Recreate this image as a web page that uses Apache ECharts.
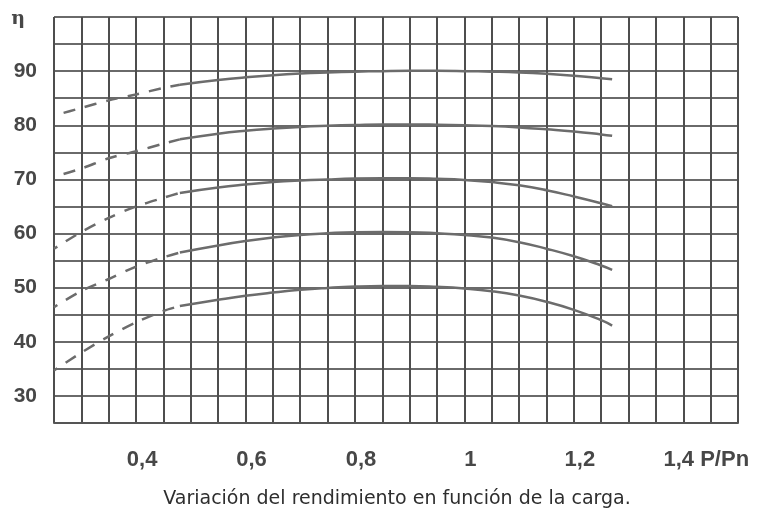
<!DOCTYPE html>
<html>
<head>
<meta charset="utf-8">
<script src="https://cdn.jsdelivr.net/npm/echarts@6/dist/echarts.min.js"></script>
<style>
html,body{margin:0;padding:0;background:#fff;}
#chart{width:757px;height:514px;}
</style>
</head>
<body>
<div id="chart"></div>
<script>
// ---- data ----
const xDash  = [0.25, 0.30, 0.35, 0.40, 0.45, 0.48];
const xSolid = [0.48, 0.55, 0.60, 0.65, 0.70, 0.75, 0.80, 0.85, 0.90, 0.95, 1.00, 1.05, 1.10, 1.15, 1.20, 1.25, 1.27];

const eta90Dash  = [81.8, 83.2, 84.6, 85.7, 86.9, 87.5];
const eta90Solid = [87.5, 88.35, 88.85, 89.25, 89.55, 89.75, 89.9, 90.0, 90.05, 90.05, 90.0, 89.9, 89.75, 89.5, 89.15, 88.7, 88.5];

const eta80Dash  = [70.5, 72.0, 73.9, 75.2, 76.6, 77.4];
const eta80Solid = [77.4, 78.45, 79.0, 79.4, 79.7, 79.9, 80.05, 80.15, 80.15, 80.1, 80.0, 79.85, 79.6, 79.25, 78.85, 78.3, 78.05];

const eta70Dash  = [57.2, 60.3, 62.9, 65.0, 66.6, 67.5];
const eta70Solid = [67.5, 68.5, 69.05, 69.5, 69.8, 70.0, 70.15, 70.2, 70.2, 70.1, 69.9, 69.5, 68.9, 68.0, 66.85, 65.6, 65.05];

const eta60Dash  = [46.4, 49.4, 51.6, 53.9, 55.6, 56.5];
const eta60Solid = [56.5, 57.8, 58.6, 59.25, 59.75, 60.05, 60.25, 60.3, 60.25, 60.05, 59.75, 59.25, 58.4, 57.2, 55.8, 54.1, 53.3];

const eta50Dash  = [34.7, 38.0, 41.0, 43.6, 45.7, 46.6];
const eta50Solid = [46.6, 47.75, 48.5, 49.1, 49.6, 49.95, 50.2, 50.3, 50.3, 50.15, 49.85, 49.35, 48.55, 47.4, 45.9, 44.0, 43.0];

const xTickValues = [0.4, 0.6, 0.8, 1.0, 1.2, 1.4];
const xTickLabels = ['0,4', '0,6', '0,8', '1', '1,2', '1,4 P/Pn'];
const yTickValues = [30, 40, 50, 60, 70, 80, 90, 100];
const yTickLabels = ['30', '40', '50', '60', '70', '80', '90', 'η'];
const caption = 'Variación del rendimiento en función de la carga.';

// ---- build ----
function zip(xs, ys) { return xs.map((x, i) => [x, ys[i]]); }
const curves = [
  [eta90Dash, eta90Solid, 12],
  [eta80Dash, eta80Solid, 12],
  [eta70Dash, eta70Solid, 8],
  [eta60Dash, eta60Solid, 8],
  [eta50Dash, eta50Solid, 8]
];
const lineColor = '#6c6c6c';
const series = [];
curves.forEach(([d, s, off]) => {
  series.push({
    type: 'line', data: zip(xDash, d), smooth: 0.3, symbol: 'none',
    lineStyle: { color: lineColor, width: 2.5, type: [12, 10], dashOffset: off },
    silent: true
  });
  series.push({
    type: 'line', data: zip(xSolid, s), smooth: 0.5, symbol: 'none',
    lineStyle: { color: lineColor, width: 2.5 },
    silent: true
  });
});

const chart = echarts.init(document.getElementById('chart'), null, { renderer: 'canvas' });
chart.setOption({
  animation: false,
  backgroundColor: '#ffffff',
  grid: { left: 54, right: 19, top: 17, bottom: 91, containLabel: false },
  xAxis: {
    type: 'value', min: 0.25, max: 1.5, interval: 0.05,
    axisLine: { show: true, lineStyle: { color: '#555', width: 2 } },
    axisTick: { show: false },
    splitLine: { show: true, lineStyle: { color: '#4e4e4e', width: 2 } },
    axisLabel: {
      margin: 26,
      formatter: function (v) {
        const k = Math.round(v * 100);
        const i = xTickValues.findIndex(t => Math.round(t * 100) === k);
        if (i < 0) return '';
        return (i === xTickValues.length - 1 ? '{b|' : '{a|') + xTickLabels[i] + '}';
      },
      rich: {
        a: { fontFamily: 'Liberation Sans', fontWeight: 'bold', fontSize: 22, color: '#474747', padding: [0, 0, 0, 12] },
        b: { fontFamily: 'Liberation Sans', fontWeight: 'bold', fontSize: 22, color: '#474747', padding: [0, 0, 0, 46] }
      }
    }
  },
  yAxis: {
    type: 'value', min: 25, max: 100, interval: 5,
    axisLine: { show: false },
    axisTick: { show: false },
    splitLine: { show: true, lineStyle: { color: '#6a6a6a', width: 2 } },
    axisLabel: {
      margin: 17,
      formatter: function (v) {
        const i = yTickValues.indexOf(Math.round(v));
        if (i < 0) return '';
        return (yTickValues[i] === 100 ? '{e|' : '{n|') + yTickLabels[i] + '}';
      },
      rich: {
        n: { fontFamily: 'Liberation Sans', fontWeight: 'bold', fontSize: 21, color: '#474747' },
        e: { fontFamily: 'DejaVu Serif', fontWeight: 'bold', fontSize: 19, color: '#474747', padding: [5, 12, 0, 0] }
      }
    }
  },
  graphic: [{
    type: 'text', x: 397, y: 499,
    style: {
      text: caption, fill: '#2e2e2e', font: '19px "DejaVu Sans"',
      textAlign: 'center', textVerticalAlign: 'middle'
    }
  }],
  series: series
});
</script>
</body>
</html>
